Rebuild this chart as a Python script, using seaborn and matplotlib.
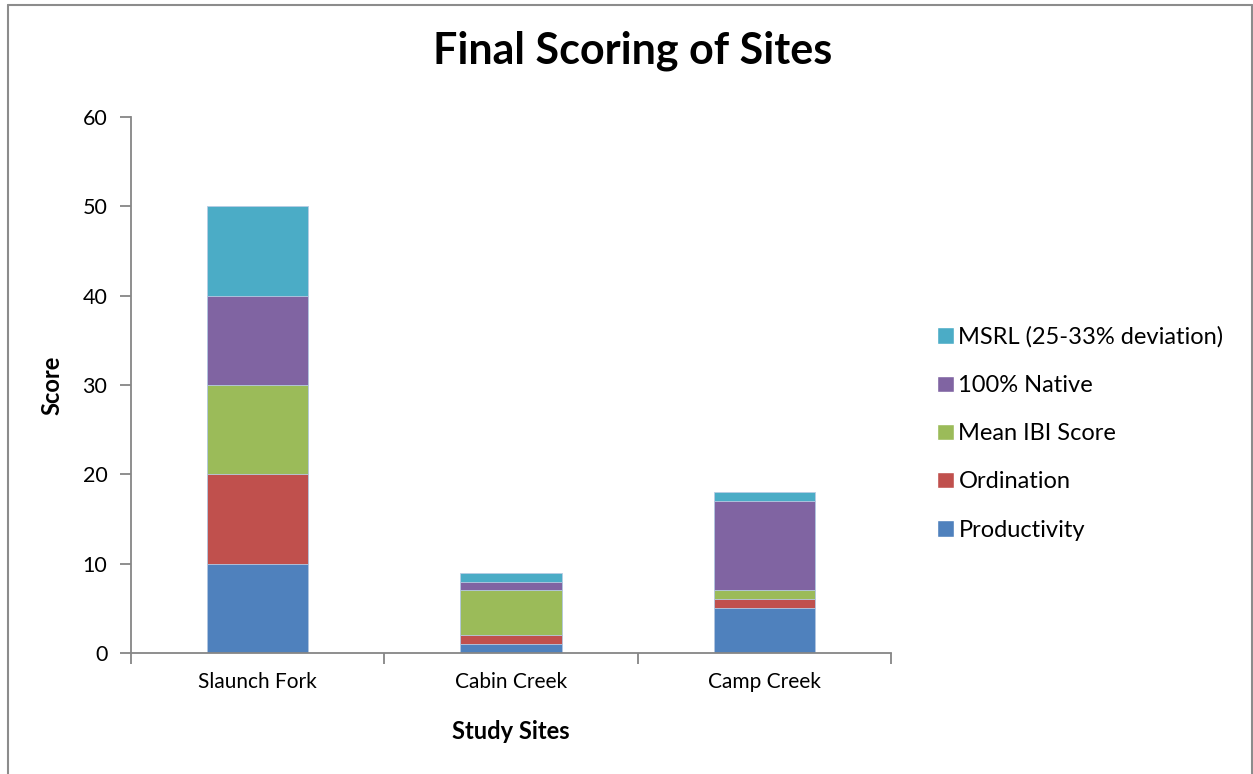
import numpy as np
import pandas as pd
import seaborn as sns
import matplotlib.pyplot as plt
from matplotlib.lines import Line2D
from matplotlib.patches import Patch

sites = ['Slaunch Fork', 'Cabin Creek', 'Camp Creek']
series = ['Productivity', 'Ordination', 'Mean IBI Score', '100% Native',
          'MSRL (25-33% deviation)']
productivity = [10, 1, 5]
ordination = [10, 1, 1]
mean_ibi = [10, 5, 1]
native = [10, 1, 10]
msrl = [10, 1, 1]
colors = ['#4F81BD', '#C0504D', '#9BBB59', '#8064A2', '#4BACC6']

sns.set_style('white')
plt.rcParams['font.family'] = ['Lato', 'DejaVu Sans']
plt.rcParams['text.color'] = 'black'
plt.rcParams['axes.labelcolor'] = 'black'
plt.rcParams['xtick.color'] = 'black'
plt.rcParams['ytick.color'] = 'black'

df = pd.DataFrame({'site': sites, 'Productivity': productivity,
                   'Ordination': ordination, 'Mean IBI Score': mean_ibi,
                   '100% Native': native, 'MSRL (25-33% deviation)': msrl})
cum = df[series].cumsum(axis=1)

fig = plt.figure(figsize=(12.53, 7.74), dpi=100)
ax = fig.add_axes([0.1045, 0.1563, 0.6065, 0.6925])

# stacked bars: draw cumulative totals from the top series down
for name, col in reversed(list(zip(series, colors))):
    sns.barplot(x=df['site'], y=cum[name], color=col, width=0.4,
                saturation=1, edgecolor='#b8cce4', linewidth=0.6, ax=ax)

ax.set_ylim(0, 60)
ax.set_xlim(-0.5, 2.5)
ax.set_yticks(range(0, 61, 10))
ax.set_yticklabels([str(v) for v in range(0, 61, 10)], fontsize=15.5)
ax.set_xticks([0, 1, 2])
ax.set_xticklabels(sites, fontsize=15)
ax.set_xticks([-0.5, 0.5, 1.5, 2.5], minor=True)
ax.tick_params(axis='x', which='major', length=0, pad=14)
ax.tick_params(axis='x', which='minor', length=8, width=1.3, color='#868686',
               direction='out', bottom=True)
ax.tick_params(axis='y', length=8, width=1.3, color='#868686',
               direction='out', left=True, pad=9)
for s in ['top', 'right']:
    ax.spines[s].set_visible(False)
for s in ['left', 'bottom']:
    ax.spines[s].set_color('#868686')
    ax.spines[s].set_linewidth(1.3)

ax.set_xlabel('Study Sites', fontsize=17, fontweight='bold', labelpad=20)
ax.set_ylabel('Score', fontsize=17, fontweight='bold', labelpad=14)
fig.text(0.505, 0.934, 'Final Scoring of Sites', fontsize=31,
         fontweight='bold', ha='center', va='center')

handles = [Patch(facecolor=c, label=n) for n, c in zip(series, colors)]
fig.legend(handles=handles[::-1], loc='center left',
           bbox_to_anchor=(0.748, 0.44), frameon=False, fontsize=17,
           handlelength=0.7, handleheight=0.7, handletextpad=0.2,
           labelspacing=1.15, borderaxespad=0, borderpad=0)

# outer chart frame
fc = '#8c8c8c'
fig.add_artist(Line2D([0.0065, 0.0065], [0.0, 0.994], color=fc, lw=1.5,
                      transform=fig.transFigure))
fig.add_artist(Line2D([0.0065, 0.999], [0.994, 0.994], color=fc, lw=1.5,
                      transform=fig.transFigure))
fig.add_artist(Line2D([0.999, 0.999], [0.0, 0.994], color=fc, lw=1.5,
                      transform=fig.transFigure))

fig.savefig('out.png', dpi=100)
